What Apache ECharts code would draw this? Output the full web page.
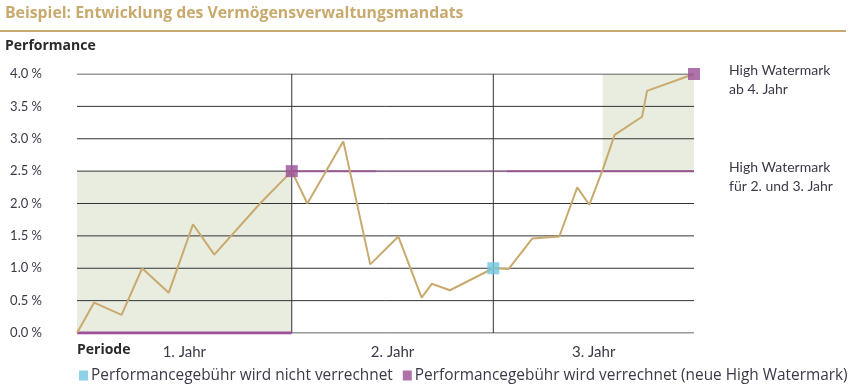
<!DOCTYPE html>
<html><head><meta charset="utf-8">
<script src="https://cdn.jsdelivr.net/npm/echarts@6/dist/echarts.min.js"></script>
<style>html,body{margin:0;padding:0;background:#fff}#c{width:848px;height:387px}</style>
</head><body><div id="c"></div>
<script>
// x in months (0..36), y in percent
var perfX = [0, 1.0, 2.6, 3.8, 5.35, 6.77, 8.01, 10.68, 12.53, 13.44, 15.54, 17.11, 18.75, 20.11, 20.70, 21.76, 24.29, 25.19, 26.57, 28.14, 29.19, 29.89, 30.67, 31.37, 32.97, 33.26, 36];
var perfY = [0, 0.47, 0.28, 1.0, 0.62, 1.68, 1.21, 2.0, 2.5, 2.0, 2.96, 1.06, 1.49, 0.545, 0.76, 0.66, 1.0, 0.99, 1.46, 1.49, 2.25, 1.98, 2.52, 3.06, 3.34, 3.74, 4.0];
var yearEnds = [12.53, 24.29, 36];
var yearLabels = ['1. Jahr', '2. Jahr', '3. Jahr'];
var yTicks = [0, 0.5, 1, 1.5, 2, 2.5, 3, 3.5, 4];
var hwm1 = 2.5, hwm2 = 4.0;
var shadeStart2 = 30.67;
var noFeePoints = [[24.29, 1.0]];
var feePoints = [[12.53, 2.5], [36, 4.0]];
var legendNames = ['Performancegebühr wird nicht verrechnet', 'Performancegebühr wird verrechnet (neue High Watermark)'];

var gold = '#c8aa6e', purple = '#9b4f96', cyan = '#6fc7e1', grid = '#333333', txt = '#3a3a48';
var F = 'Lato', F2 = 'Open Sans';
var xMax = yearEnds[yearEnds.length - 1];
var yearMids = yearEnds.map(function (e, i) { var s = i === 0 ? 0 : yearEnds[i - 1]; return (s + e) / 2; });
var perf = perfX.map(function (x, i) { return [x, perfY[i]]; });
var shades = [[0, 0, yearEnds[0], hwm1], [shadeStart2, hwm1, yearEnds[2], hwm2]];

function plainLine(data, color, width, z, opacity) {
  return { type: 'line', data: data, symbol: 'none', silent: true, z: z, animation: false,
    lineStyle: { color: color, width: width, opacity: opacity == null ? 1 : opacity } };
}

var series = [
  {
    type: 'custom', name: 'shades', data: shades, silent: true, z: 1,
    renderItem: function (params, api) {
      var p0 = api.coord([api.value(0), api.value(3)]);
      var p1 = api.coord([api.value(2), api.value(1)]);
      return { type: 'rect', shape: { x: p0[0], y: p0[1], width: p1[0] - p0[0], height: p1[1] - p0[1] }, style: { fill: '#e9ede0' } };
    }
  }
];
yTicks.forEach(function (t) { series.push(plainLine([[0, t], [xMax, t]], grid, 1, 3)); });
yearEnds.slice(0, 2).forEach(function (x) { series.push(plainLine([[x, 0], [x, yTicks[yTicks.length - 1]]], grid, 1, 3)); });
series.push(plainLine([[0, 0], [yearEnds[0], 0]], purple, 3, 4));
series.push(plainLine([[yearEnds[0], hwm1], [17.45, hwm1]], purple, 2, 4, 0.85));
series.push(plainLine([[17.45, hwm1], [25.09, hwm1]], purple, 2, 4, 0.4));
series.push(plainLine([[25.09, hwm1], [xMax, hwm1]], purple, 2, 4, 0.9));
series.push(plainLine(perf, gold, 2, 5));
series.push({ type: 'scatter', name: legendNames[0], data: noFeePoints, symbol: 'rect', symbolSize: 12, itemStyle: { color: cyan }, z: 6 });
series.push({ type: 'scatter', name: legendNames[1], data: feePoints, symbol: 'rect', symbolSize: 12, itemStyle: { color: purple }, z: 6 });

var chart = echarts.init(document.getElementById('c'), null, { renderer: 'canvas' });
chart.setOption({
  animation: false,
  textStyle: { fontFamily: F },
  grid: { left: 77, right: 154, top: 74, bottom: 54, containLabel: false },
  xAxis: {
    type: 'value', min: 0, max: xMax,
    axisLine: { show: false }, axisTick: { show: false }, splitLine: { show: false },
    axisLabel: {
      customValues: yearMids, margin: 12, color: txt, fontSize: 15, fontFamily: F,
      formatter: function (v) { var i = yearMids.findIndex(function (m) { return Math.abs(m - v) < 1e-6; }); return i >= 0 ? yearLabels[i] : ''; }
    }
  },
  yAxis: {
    type: 'value', min: 0, max: 4, interval: 0.5,
    axisLine: { show: false }, axisTick: { show: false },
    splitLine: { show: false },
    axisLabel: { margin: 35, color: txt, fontSize: 13, fontFamily: F, formatter: function (v) { return v.toFixed(1) + ' %'; } }
  },
  legend: {
    left: 74, top: 363, width: 800, itemWidth: 9, itemHeight: 10, itemGap: 10, icon: 'rect',
    textStyle: { color: txt, fontSize: 15.4, fontFamily: F2, padding: [0, 0, 0, -2] },
    data: legendNames
  },
  graphic: [
    { type: 'text', left: 5, top: 5, style: { text: 'Beispiel: Entwicklung des Vermögensverwaltungsmandats', fill: gold, font: 'bold 15.8px "' + F2 + '"' } },
    { type: 'rect', shape: { x: 0, y: 30, width: 846, height: 2 }, style: { fill: gold } },
    { type: 'text', left: 5, top: 39, style: { text: 'Performance', fill: '#2a2a2a', font: 'bold 14px "' + F2 + '"' } },
    { type: 'text', left: 77, top: 343, style: { text: 'Periode', fill: '#2a2a2a', font: 'bold 14px "' + F2 + '"' } },
    { type: 'text', left: 729, top: 61, style: { text: 'High Watermark\nab 4. Jahr', fill: txt, font: '14px ' + F, lineHeight: 19 } },
    { type: 'text', left: 729, top: 158, style: { text: 'High Watermark\nfür 2. und 3. Jahr', fill: txt, font: '14px ' + F, lineHeight: 19 } }
  ],
  series: series
});
</script></body></html>
